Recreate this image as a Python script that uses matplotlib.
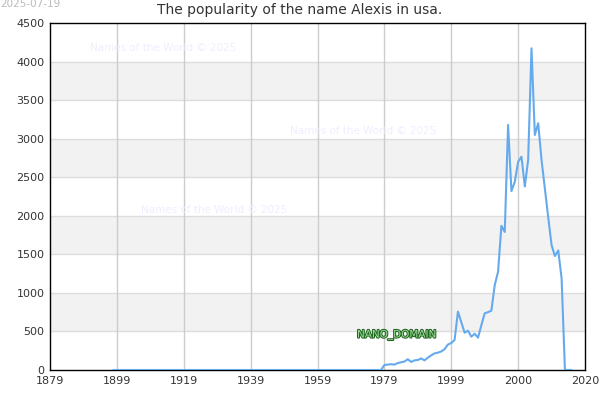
import matplotlib
matplotlib.use("Agg")
import matplotlib.pyplot as plt
import matplotlib.patheffects as pe
import numpy as np

# axis positions of the yearly points (the chart's own x scale)
years = list(range(1898, 2036))
counts = [0] * 81 + [
    65, 70, 75, 70, 90, 100, 110, 140, 105, 125,
    130, 150, 125, 160, 190, 215, 225, 240, 270, 330,
    350, 390, 757, 620, 484, 510, 432, 470, 419, 580,
    735, 750, 770, 1100, 1275, 1870, 1790, 3178, 2320, 2440,
    2700, 2767, 2380, 2724, 4172, 3048, 3200, 2724, 2350, 1980,
    1620, 1478, 1550, 1190,
] + [0, 0, 0]

x_ticks = [1879, 1899, 1919, 1939, 1959, 1979, 1999, 2019, 2039]
x_labels = ["1879", "1899", "1919", "1939", "1959", "1979", "1999", "2000", "2020"]
y_ticks = list(range(0, 4501, 500))

title = "The popularity of the name Alexis in usa."
stamp = "2025-07-19"
watermark = "Names of the World © 2025"

fig = plt.figure(figsize=(6, 4), dpi=100)
ax = fig.add_axes([50 / 600, 30 / 400, 535 / 600, 347 / 400])

ax.set_xlim(1879, 2039)
ax.set_ylim(0, 4500)

# alternating bands
for lo in range(500, 4500, 1000):
    ax.axhspan(lo, lo + 500, color="#f2f2f2", zorder=0, lw=0)
for y in y_ticks[1:-1]:
    ax.axhline(y, color="#dddddd", lw=1, zorder=1)
for x in x_ticks[1:-1]:
    ax.axvline(x, color="#cccccc", lw=1, zorder=1)

ax.plot(years, counts, color="#66aaee", lw=1.5, zorder=3)

ax.set_xticks(x_ticks)
ax.set_xticklabels(x_labels)
ax.set_yticks(y_ticks)
ax.tick_params(length=0, labelsize=8, colors="#333333", pad=4)
for s in ax.spines.values():
    s.set_color("black")
    s.set_linewidth(1)

fig.text(0.5, 1 - 10 / 400, title, ha="center", va="center", fontsize=10, color="#333333")
fig.text(0.0, 1 - 4 / 400, stamp, ha="left", va="center", fontsize=7.5, color="#bbbbbb")

for (px, py) in [(90, 48), (290, 131), (141, 210)]:
    fig.text(px / 600, 1 - py / 400, watermark, ha="left", va="center",
             fontsize=7.5, color="#eeeeff", zorder=2)

fig.text(357 / 600, 1 - 335 / 400, "NANO_DOMAIN", ha="left", va="center",
         fontsize=7.5, color="#99dd99",
         path_effects=[pe.withStroke(linewidth=1.5, foreground="#226622")])

fig.savefig("out.png", dpi=100)
